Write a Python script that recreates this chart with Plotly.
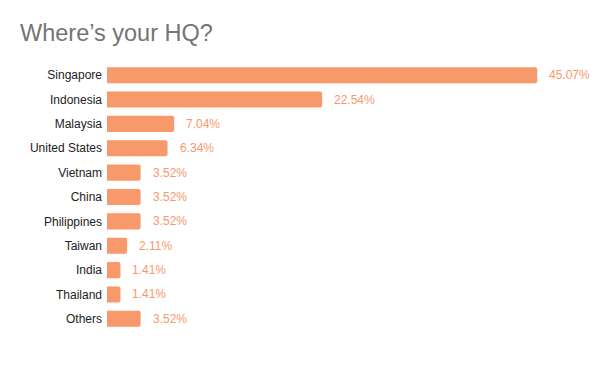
import plotly.graph_objects as go

countries = ["Singapore", "Indonesia", "Malaysia", "United States", "Vietnam", "China",
             "Philippines", "Taiwan", "India", "Thailand", "Others"]
shares = [45.07, 22.54, 7.04, 6.34, 3.52, 3.52, 3.52, 2.11, 1.41, 1.41, 3.52]
labels = [f"{v:.2f}%" for v in shares]

bar_color = "#f7996a"
label_color = "#f7996a"
FONT = "Liberation Sans, Arial, sans-serif"

W, H = 592, 363  # page body adds an 8px margin

fig = go.Figure()
fig.add_trace(go.Bar(
    x=shares, y=countries, orientation="h",
    marker=dict(color=bar_color, cornerradius=2, line=dict(width=0)),
    hoverinfo="skip",
))

for c, v, t in zip(countries, shares, labels):
    fig.add_annotation(x=v, y=c, text=t, showarrow=False, xanchor="left",
                       xshift=10, font=dict(size=12, color=label_color, family=FONT))

fig.update_layout(
    width=W, height=H,
    margin=dict(l=99, r=10, t=55, b=40),
    paper_bgcolor="white", plot_bgcolor="white",
    bargap=0.34,
    showlegend=False,
    title=dict(text="Where’s your HQ?", x=12/W, xanchor="left", y=1-25/H, yanchor="middle",
               font=dict(size=23.5, color="#757575", family=FONT)),
    xaxis=dict(range=[0, 50.6], showgrid=False, zeroline=False, showticklabels=False,
               showline=False, fixedrange=True),
    yaxis=dict(categoryorder="array", categoryarray=countries, autorange="reversed",
               showgrid=False, zeroline=False, showline=False, ticks="",
               tickfont=dict(size=12, color="#222222", family=FONT),
               ticklabelstandoff=4),
    font=dict(family=FONT),
)

fig.write_html("out.html")
